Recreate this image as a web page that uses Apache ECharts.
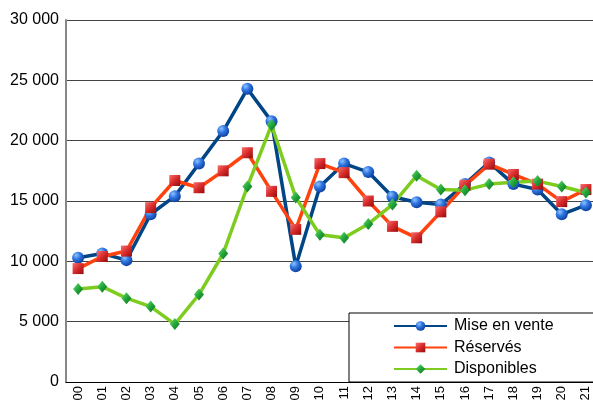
<!DOCTYPE html>
<html>
<head>
<meta charset="utf-8">
<script src="https://cdn.jsdelivr.net/npm/echarts@6/dist/echarts.min.js"></script>
<style>
  html, body { margin: 0; padding: 0; background: #fff; }
  #chart { width: 593px; height: 400px; }
</style>
</head>
<body>
<div id="chart"></div>
<script>
// Years (two-digit) on the category axis
const years = ['00','01','02','03','04','05','06','07','08','09','10',
               '11','12','13','14','15','16','17','18','19','20','21'];

const miseEnVente = [10300, 10650, 10100, 13900, 15400, 18100, 20800, 24300, 21600, 9600, 16200,
                     18100, 17400, 15350, 14900, 14700, 16400, 18200, 16400, 15950, 13900, 14650];
const reserves    = [9400, 10400, 10850, 14450, 16700, 16100, 17500, 19000, 15800, 12650, 18100,
                     17350, 15000, 12900, 11950, 14100, 16300, 18050, 17200, 16400, 14950, 15950];
const disponibles = [7700, 7900, 6950, 6250, 4800, 7250, 10650, 16200, 21300, 15300, 12200,
                     11950, 13100, 14700, 17100, 15950, 15900, 16400, 16550, 16650, 16200, 15700];

const yTicks = { min: 0, max: 30000, step: 5000 };

const FONT = '"Liberation Sans", Arial, sans-serif';

const blueBall = {
  type: 'radial', x: 0.35, y: 0.3, r: 0.75,
  colorStops: [
    { offset: 0, color: '#8cc4ff' },
    { offset: 0.45, color: '#2f74e0' },
    { offset: 1, color: '#0b3d9a' }
  ]
};
const redCube = {
  type: 'linear', x: 0, y: 0, x2: 1, y2: 1,
  colorStops: [
    { offset: 0, color: '#f57070' },
    { offset: 0.5, color: '#d92a2a' },
    { offset: 1, color: '#8e0d0d' }
  ]
};
const greenGem = {
  type: 'linear', x: 0, y: 0, x2: 1, y2: 1,
  colorStops: [
    { offset: 0, color: '#6fe06f' },
    { offset: 0.5, color: '#22a63a' },
    { offset: 1, color: '#0f6b1e' }
  ]
};

function makeSeries(name, data, lineColor, symbol, size, fill) {
  return {
    name: name,
    type: 'line',
    data: data,
    symbol: symbol,
    symbolSize: size,
    showAllSymbol: true,
    animation: false,
    lineStyle: { color: lineColor, width: 3.5 },
    itemStyle: { color: fill, borderWidth: 0 },
    emphasis: { disabled: true }
  };
}

const chart = echarts.init(document.getElementById('chart'), null, { renderer: 'canvas' });

chart.setOption({
  backgroundColor: '#ffffff',
  animation: false,
  textStyle: { fontFamily: FONT },
  grid: { left: 66, top: 20, right: -5, bottom: 18, containLabel: false, outerBoundsMode: 'none' },
  xAxis: {
    type: 'category',
    data: years,
    boundaryGap: true,
    axisLine: { show: true, lineStyle: { color: '#000', width: 1 } },
    axisTick: { show: false },
    axisLabel: { rotate: 90, fontSize: 13, color: '#000', fontFamily: FONT, margin: 4, interval: 0, hideOverlap: false },
    splitLine: { show: false }
  },
  yAxis: {
    type: 'value',
    min: yTicks.min,
    max: yTicks.max,
    interval: yTicks.step,
    axisLine: { show: true, lineStyle: { color: '#888', width: 2 } },
    axisTick: { show: false },
    axisLabel: {
      fontSize: 16, color: '#000', fontFamily: FONT, margin: 7,
      formatter: v => String(v).replace(/\B(?=(\d{3})+(?!\d))/g, ' ')
    },
    splitLine: { show: true, lineStyle: { color: '#444', width: 1 } }
  },
  legend: {
    orient: 'vertical',
    left: 349,
    top: 313,
    padding: [5, 80, 5, 44],
    itemGap: 5.5,
    itemWidth: 53,
    itemHeight: 12,
    backgroundColor: '#ffffff',
    borderColor: '#000',
    borderWidth: 1,
    borderRadius: 0,
    selectedMode: false,
    textStyle: { fontSize: 16, lineHeight: 16, color: '#000', fontFamily: FONT, padding: [0, 0, 0, 2] },
    data: ['Mise en vente', 'Réservés', 'Disponibles']
  },
  series: [
    makeSeries('Mise en vente', miseEnVente, '#004586', 'circle', 12, blueBall),
    makeSeries('Réservés', reserves, '#ff420e', 'rect', 11, redCube),
    makeSeries('Disponibles', disponibles, '#7dcc1f', 'diamond', [10, 12], greenGem)
  ]
});
</script>
</body>
</html>
